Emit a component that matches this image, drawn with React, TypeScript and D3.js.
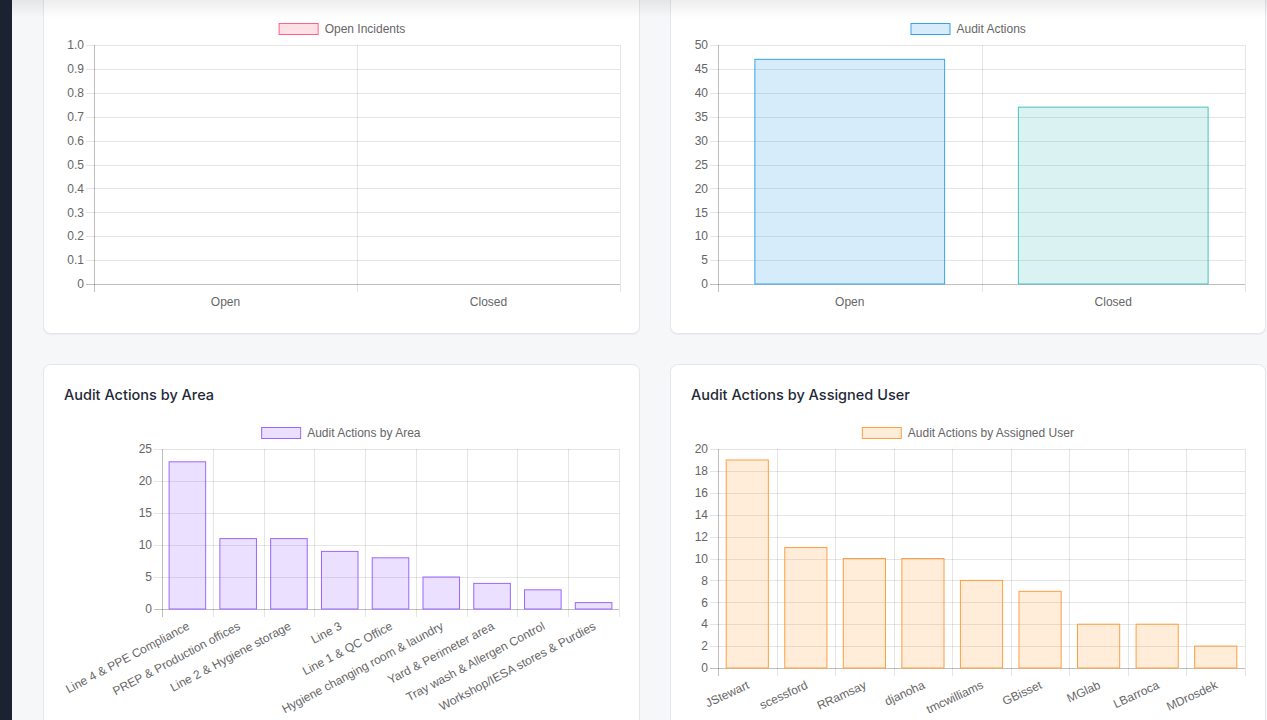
import React from 'react';
import * as d3 from 'd3';

// dataset values
const statusLabels = ['Open', 'Closed'];
const incidentCounts = [0, 0];
const actionCounts = [47, 37];

const areaLabels = [
  'Line 4 & PPE Compliance',
  'PREP & Production offices',
  'Line 2 & Hygiene storage',
  'Line 3',
  'Line 1 & QC Office',
  'Hygiene changing room & laundry',
  'Yard & Perimeter area',
  'Tray wash & Allergen Control',
  'Workshop/IESA stores & Purdies',
];
const areaCounts = [23, 11, 11, 9, 8, 5, 4, 3, 1];

const userLabels = ['JStewart', 'scessford', 'RRamsay', 'djanoha', 'tmcwilliams', 'GBisset', 'MGlab', 'LBarroca', 'MDrosdek'];
const userCounts = [19, 11, 10, 10, 8, 7, 4, 4, 2];

const W = 1267;
const H = 720;
const FONT = '"Liberation Sans", Arial, Helvetica, sans-serif';
const TICK_COLOR = '#666';

const measure = (() => {
  let ctx: CanvasRenderingContext2D | null = null;
  return (txt: string) => {
    if (!ctx) ctx = document.createElement('canvas').getContext('2d');
    if (!ctx) return txt.length * 6.5;
    ctx.font = `12px ${FONT}`;
    return ctx.measureText(txt).width;
  };
})();

type PanelProps = {
  labels: string[];
  values: number[];
  legend: string;
  fills: string[];
  strokes: string[];
  legendFill: string;
  legendStroke: string;
  left: number;
  right: number;
  top: number;
  bottom: number;
  canvasCenter: number;
  legendY: number;
  yMax: number;
  yStep: number;
  rotate: number;
  fmt: (v: number) => string;
};

function BarPanel(p: PanelProps) {
  const x = d3.scaleBand<string>().domain(p.labels).range([p.left, p.right]).paddingInner(0).paddingOuter(0);
  const y = d3.scaleLinear().domain([0, p.yMax]).range([p.bottom, p.top]);
  const ticks = d3.range(0, p.yMax + p.yStep / 2, p.yStep);
  const bw = x.bandwidth() * 0.72;

  const textW = measure(p.legend);
  const legW = 40 + 6 + textW;
  const legX = p.canvasCenter - legW / 2;

  const grid = 'rgba(0,0,0,0.1)';
  const bounds = [...p.labels.map((l) => x(l) as number), p.right];

  return (
    <g fontFamily={FONT} fontSize={12}>
      {/* legend */}
      <rect x={legX + 0.5} y={p.legendY - 5.5} width={39} height={11} fill={p.legendFill} stroke={p.legendStroke} strokeWidth={1} />
      <text x={legX + 46} y={p.legendY} dy="0.35em" fill={TICK_COLOR}>{p.legend}</text>

      {/* horizontal grid + y ticks */}
      {ticks.map((t) => (
        <g key={t}>
          <line
            x1={p.left - 8}
            x2={p.right}
            y1={Math.round(y(t)) + 0.5}
            y2={Math.round(y(t)) + 0.5}
            stroke={t === 0 ? 'rgba(0,0,0,0.25)' : grid}
          />
          <text x={p.left - 10} y={y(t)} dy="0.35em" textAnchor="end" fill={TICK_COLOR}>{p.fmt(t)}</text>
        </g>
      ))}

      {/* vertical grid at category boundaries */}
      {bounds.map((b, i) => (
        <line
          key={i}
          x1={Math.round(b) + 0.5}
          x2={Math.round(b) + 0.5}
          y1={p.top}
          y2={p.bottom + 8}
          stroke={i === 0 ? 'rgba(0,0,0,0.25)' : grid}
        />
      ))}

      {/* bars */}
      {p.values.map((v, i) => {
        if (v === 0) return null;
        const cx = (x(p.labels[i]) as number) + x.bandwidth() / 2;
        return (
          <rect
            key={i}
            x={cx - bw / 2}
            y={y(v)}
            width={bw}
            height={y(0) - y(v)}
            fill={p.fills[i % p.fills.length]}
            stroke={p.strokes[i % p.strokes.length]}
            strokeWidth={1}
          />
        );
      })}

      {/* x labels */}
      {p.labels.map((l) => {
        const cx = (x(l) as number) + x.bandwidth() / 2;
        if (p.rotate === 0) {
          return (
            <text key={l} x={cx} y={p.bottom + 18} dy="0.35em" textAnchor="middle" fill={TICK_COLOR}>{l}</text>
          );
        }
        return (
          <text
            key={l}
            transform={`translate(${cx + 1},${p.bottom + 16}) rotate(${-p.rotate})`}
            dy="0.35em"
            textAnchor="end"
            fill={TICK_COLOR}
          >
            {l}
          </text>
        );
      })}
    </g>
  );
}

function Card({ x, y, w, h }: { x: number; y: number; w: number; h: number }) {
  return (
    <g>
      <rect x={x} y={y + 1} width={w} height={h} rx={7} fill="rgba(0,0,0,0.04)" />
      <rect x={x + 0.5} y={y + 0.5} width={w - 1} height={h - 1} rx={7} fill="#fff" stroke="#e4e6eb" />
    </g>
  );
}

const fixed = (v: number) => (v === 0 ? '0' : v.toFixed(1));
const plain = (v: number) => String(v);

export default function App() {
  return (
    <div style={{ position: 'absolute', left: 0, top: 0 }}>
      <svg width={W} height={H} style={{ display: 'block' }}>
        <defs>
          <linearGradient id="topShade" x1="0" y1="0" x2="0" y2="1">
            <stop offset="0" stopColor="rgba(0,0,0,0.07)" />
            <stop offset="1" stopColor="rgba(0,0,0,0)" />
          </linearGradient>
        </defs>
        <rect width={W} height={H} fill="#f6f7f9" />
        <rect x={0} y={0} width={12} height={H} fill="#1b2232" />

        <Card x={43} y={-20} w={597} h={354} />
        <Card x={670} y={-20} w={596} h={354} />
        <Card x={43} y={364} w={597} h={380} />
        <Card x={670} y={364} w={596} h={380} />

        <BarPanel
          labels={statusLabels}
          values={incidentCounts}
          legend="Open Incidents"
          fills={['rgba(255,99,132,0.2)']}
          strokes={['rgb(255,99,132)']}
          legendFill="rgba(255,99,132,0.2)"
          legendStroke="rgb(255,99,132)"
          left={94}
          right={620}
          top={45}
          bottom={284}
          canvasCenter={342}
          legendY={29}
          yMax={1}
          yStep={0.1}
          rotate={0}
          fmt={fixed}
        />
        <BarPanel
          labels={statusLabels}
          values={actionCounts}
          legend="Audit Actions"
          fills={['rgba(54,162,235,0.2)', 'rgba(75,192,192,0.2)']}
          strokes={['rgb(54,162,235)', 'rgb(75,192,192)']}
          legendFill="rgba(54,162,235,0.2)"
          legendStroke="rgb(54,162,235)"
          left={718}
          right={1245}
          top={45}
          bottom={284}
          canvasCenter={968.5}
          legendY={29}
          yMax={50}
          yStep={5}
          rotate={0}
          fmt={plain}
        />

        <text x={64} y={395} dy="0.35em" fontFamily="Inter, sans-serif" fontSize={14.5} fontWeight={500} fill="#1f2937">
          Audit Actions by Area
        </text>
        <text x={691} y={395} dy="0.35em" fontFamily="Inter, sans-serif" fontSize={14.5} fontWeight={500} fill="#1f2937">
          Audit Actions by Assigned User
        </text>

        <BarPanel
          labels={areaLabels}
          values={areaCounts}
          legend="Audit Actions by Area"
          fills={['rgba(153,102,255,0.2)']}
          strokes={['rgb(153,102,255)']}
          legendFill="rgba(153,102,255,0.2)"
          legendStroke="rgb(153,102,255)"
          left={162}
          right={619}
          top={449}
          bottom={609}
          canvasCenter={341.5}
          legendY={433}
          yMax={25}
          yStep={5}
          rotate={28}
          fmt={plain}
        />
        <BarPanel
          labels={userLabels}
          values={userCounts}
          legend="Audit Actions by Assigned User"
          fills={['rgba(255,159,64,0.2)']}
          strokes={['rgb(255,159,64)']}
          legendFill="rgba(255,159,64,0.2)"
          legendStroke="rgb(255,159,64)"
          left={718}
          right={1245}
          top={449}
          bottom={668}
          canvasCenter={968.5}
          legendY={433}
          yMax={20}
          yStep={2}
          rotate={25}
          fmt={plain}
        />

        <rect x={12} y={0} width={W - 12} height={18} fill="url(#topShade)" />
      </svg>
    </div>
  );
}
